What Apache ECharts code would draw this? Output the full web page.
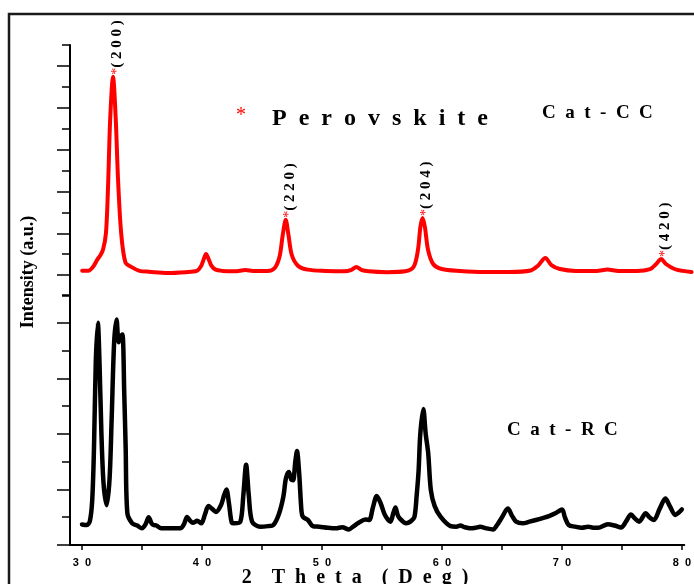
<!DOCTYPE html>
<html>
<head>
<meta charset="utf-8">
<script src="https://cdn.jsdelivr.net/npm/echarts@6/dist/echarts.min.js"></script>
<style>
  html, body { margin: 0; padding: 0; background: #fff; }
  #chart { width: 694px; height: 584px; }
</style>
</head>
<body>
<div id="chart"></div>
<script>
// Cat-CC diffraction pattern (upper panel, red)
const ccTheta = [
  30.0, 30.5, 30.9, 31.25, 31.46, 31.7, 31.95, 32.12, 32.3, 32.53, 32.75, 32.94, 33.2, 33.55, 34.06, 34.7,
  35.5, 37.0, 38.5, 39.4, 39.75, 40.0, 40.16, 40.35, 40.6, 40.95, 41.5, 42.5, 43.4, 44.0, 45.2,
  45.8, 46.2, 46.45, 46.7, 46.93, 47.2, 47.7, 48.5, 50.0, 51.5, 52.1, 52.5, 52.9, 53.5, 55.0,
  56.5, 57.2, 57.55, 57.75, 57.93, 58.12, 58.38, 58.8, 59.5, 61.0, 63.0, 65.0, 66.8, 67.4, 68.0,
  68.5, 69.2, 70.5, 72.2, 73.1, 74.0, 75.5, 76.6, 77.1, 77.5, 77.9, 78.6, 79.3, 80.0
];
const ccIntensity = [
  1.21, 1.21, 1.40, 1.75, 1.92, 2.2, 3.0, 5.2, 8.5, 10.48, 8.5, 5.6, 3.0, 1.6, 1.38, 1.2,
  1.16, 1.10, 1.14, 1.20, 1.42, 1.8, 2.01, 1.8, 1.45, 1.26, 1.20, 1.18, 1.24, 1.20, 1.20,
  1.34, 1.9, 2.9, 3.64, 2.9, 1.96, 1.45, 1.26, 1.20, 1.18, 1.25, 1.39, 1.25, 1.18, 1.14,
  1.18, 1.40, 2.2, 3.3, 3.73, 3.3, 2.2, 1.53, 1.29, 1.20, 1.15, 1.15, 1.22, 1.45, 1.82,
  1.48, 1.29, 1.20, 1.20, 1.27, 1.20, 1.20, 1.29, 1.53, 1.77, 1.53, 1.29, 1.20, 1.15
];

// Cat-RC diffraction pattern (lower panel, black)
const rcTheta = [
  30.0, 30.4, 30.65, 30.85, 31.0, 31.15, 31.32, 31.47, 31.62, 31.8, 32.06, 32.3, 32.47, 32.68, 32.88,
  33.05, 33.2, 33.37, 33.52, 33.64, 33.78, 34.17, 34.6, 35.0, 35.3, 35.56, 35.8, 35.97, 36.2, 36.6,
  37.4, 38.2, 38.5, 38.76, 39.0, 39.25, 39.6, 39.94, 40.25, 40.54, 40.85, 41.17, 41.6, 41.85, 42.04,
  42.25, 42.5, 42.67, 43.2, 43.45, 43.68, 43.9, 44.18, 44.86, 45.5, 45.95, 46.4, 46.78, 47.0, 47.24,
  47.45, 47.6, 47.78, 47.92, 48.1, 48.3, 48.42, 48.83, 49.24, 49.78, 50.5, 51.15, 51.7, 52.24, 52.6, 53.06,
  53.61, 53.94, 54.25, 54.57, 54.9, 55.25, 55.71, 55.95, 56.13, 56.3, 56.48, 57.03, 57.4, 57.71, 57.9,
  58.06, 58.2, 58.45, 58.65, 58.86, 59.08, 59.4, 59.9, 60.72, 61.2, 61.54, 61.9, 62.36, 62.8, 63.18,
  63.7, 64.27, 64.6, 64.96, 65.5, 65.85, 66.19, 66.74, 67.3, 67.83, 68.4, 68.93, 69.5, 70.02, 70.25,
  70.57, 71.1, 71.66, 72.2, 72.6, 73.02, 73.84, 74.4, 74.94, 75.35, 75.76, 76.1, 76.44, 76.99, 77.3,
  77.67, 78.15, 78.63, 79.0, 79.45, 79.7, 80.0
];
const rcIntensity = [
  0.74, 0.72, 0.85, 1.6, 3.5, 6.6, 8.0, 6.4, 4.0, 2.2, 1.43, 2.4, 4.5, 7.3, 8.12,
  7.3, 7.5, 7.58, 5.5, 3.5, 1.15, 0.79, 0.7, 0.6, 0.75, 1.0, 0.78, 0.72, 0.7, 0.6,
  0.6, 0.6, 0.75, 1.01, 0.88, 0.8, 0.87, 0.78, 1.1, 1.4, 1.3, 1.19, 1.45, 1.8, 2.0,
  1.5, 0.79, 0.78, 0.84, 1.8, 2.89, 1.8, 0.84, 0.66, 0.68, 0.72, 1.1, 1.73, 2.4, 2.63,
  2.35, 2.33, 3.0, 3.38, 2.6, 1.2, 1.01, 0.9, 0.68, 0.66, 0.62, 0.6, 0.64, 0.56, 0.66, 0.8,
  0.92, 0.9, 1.35, 1.76, 1.5, 1.08, 0.84, 1.15, 1.35, 1.1, 0.96, 0.78, 0.85, 1.01, 1.8,
  2.69, 4.0, 4.9, 4.0, 3.3, 1.97, 1.4, 1.01, 0.68, 0.66, 0.7, 0.64, 0.6, 0.62, 0.66,
  0.6, 0.56, 0.72, 0.96, 1.31, 1.05, 0.84, 0.78, 0.84, 0.9, 0.97, 1.04, 1.15, 1.28, 1.0,
  0.72, 0.66, 0.62, 0.66, 0.62, 0.62, 0.75, 0.7, 0.63, 0.85, 1.1, 0.95, 0.84, 1.14, 1.0,
  0.9, 1.3, 1.67, 1.4, 1.08, 1.15, 1.28
];

// Indexed perovskite reflections marked on the Cat-CC pattern
const hklTheta = [32.53, 46.7, 57.93, 77.5];
const hklLabels = ['200', '220', '204', '420'];

// Axis ticks
const xTickValues = [30, 35, 40, 45, 50, 55, 60, 65, 70, 75, 80];
const xLabelValues = [30, 40, 50, 60, 70, 80];
const ccMajorTicks = [1, 3, 5, 7, 9, 11];
const ccMinorTicks = [0, 2, 4, 6, 8, 10, 12];
const rcMajorTicks = [0, 2, 4, 6, 8];
const rcMinorTicks = [1, 3, 5, 7, 9];

const SERIF = '"Liberation Serif", "Times New Roman", serif';
const SANS = '"Liberation Sans", Arial, sans-serif';

// spread the letters of a word apart
function spaced(text, gap, wordGap) {
  return text.split(' ').map(w => w.split('').join(gap)).join(wordGap || gap);
}

const ccPoints = ccTheta.map((t, i) => [t, ccIntensity[i]]);
const rcPoints = rcTheta.map((t, i) => [t, rcIntensity[i]]);
const hklPoints = hklTheta.map((t, i) => [t, ccIntensity[ccTheta.indexOf(t)], hklLabels[i]]);

const X_MIN = 29, X_MAX = 80.2;

function tickOnlyAxis(grid, max, values, length, withLine) {
  return {
    type: 'value', gridIndex: grid, min: 0, max: max, position: 'left',
    axisLine: { show: withLine, onZero: false, lineStyle: { color: '#000', width: 2 } },
    axisTick: { show: true, inside: false, length: length, customValues: values,
                lineStyle: { color: '#000', width: 1.5 } },
    axisLabel: { show: false },
    splitLine: { show: false }
  };
}

const chart = echarts.init(document.getElementById('chart'), null, { renderer: 'canvas' });

chart.setOption({
  animation: false,
  backgroundColor: '#fff',
  grid: [
    { left: 70, right: 0, top: 45, height: 251 },
    { left: 70, right: 0, top: 295, height: 250 }
  ],
  xAxis: [
    { type: 'value', gridIndex: 0, min: X_MIN, max: X_MAX, show: false },
    {
      type: 'value', gridIndex: 1, min: X_MIN, max: X_MAX,
      axisLine: { show: true, onZero: false, lineStyle: { color: '#000', width: 2 } },
      axisTick: { show: true, inside: false, length: 5, customValues: xTickValues,
                  lineStyle: { color: '#000', width: 1.5 } },
      axisLabel: {
        show: true, customValues: xLabelValues, margin: 12,
        color: '#000', fontFamily: SANS, fontWeight: 'bold', fontSize: 11,
        formatter: v => spaced(String(v), '  ')
      },
      splitLine: { show: false }
    }
  ],
  yAxis: [
    tickOnlyAxis(0, 12, ccMajorTicks, 13, true),
    tickOnlyAxis(0, 12, ccMinorTicks, 8, false),
    tickOnlyAxis(1, 9, rcMajorTicks, 13, true),
    tickOnlyAxis(1, 9, rcMinorTicks, 8, false)
  ],
  series: [
    {
      name: 'Cat-CC', type: 'line', xAxisIndex: 0, yAxisIndex: 0,
      data: ccPoints, showSymbol: false, smooth: 0.3,
      lineStyle: { color: '#ff0000', width: 4, join: 'round', cap: 'round' }
    },
    {
      name: 'hkl', type: 'scatter', xAxisIndex: 0, yAxisIndex: 0,
      data: hklPoints, symbolSize: 0, itemStyle: { color: '#000' },
      silent: true,
      label: {
        show: true, position: 'top', distance: 2, rotate: 90,
        align: 'left', verticalAlign: 'middle', offset: [0, 4],
        color: '#000', opacity: 1,
        formatter: p => '{s|*}{h|' + spaced('(' + p.data[2] + ')', ' ') + '}',
        rich: {
          s: { color: '#ff0000', fontFamily: SERIF, fontSize: 14 },
          h: { color: '#000', fontFamily: SERIF, fontWeight: 'bold', fontSize: 15 }
        }
      }
    },
    {
      name: 'Cat-RC', type: 'line', xAxisIndex: 1, yAxisIndex: 2,
      data: rcPoints, showSymbol: false, smooth: 0.3,
      lineStyle: { color: '#000', width: 4.5, join: 'round', cap: 'round' }
    }
  ],
  graphic: [
    {
      type: 'rect', silent: true, z: 0,
      shape: { x: 9, y: 14, width: 720, height: 620 },
      style: { fill: 'none', stroke: '#1a1a1a', lineWidth: 2.5 }
    },
    {
      type: 'text', x: 241, y: 116,
      style: { text: '*', fill: '#ff0000', font: '20px ' + SERIF, textAlign: 'center', textVerticalAlign: 'middle' }
    },
    {
      type: 'text', x: 272, y: 119,
      style: { text: spaced('Perovskite', '\u2002'), fill: '#000', font: 'bold 24px ' + SERIF,
               textAlign: 'left', textVerticalAlign: 'middle' }
    },
    {
      type: 'text', x: 542, y: 113,
      style: { text: spaced('Cat-CC', '\u2002'), fill: '#000', font: 'bold 19px ' + SERIF,
               textAlign: 'left', textVerticalAlign: 'middle' }
    },
    {
      type: 'text', x: 507, y: 430,
      style: { text: spaced('Cat-RC', '\u2002'), fill: '#000', font: 'bold 19px ' + SERIF,
               textAlign: 'left', textVerticalAlign: 'middle' }
    },
    {
      type: 'text', x: 355, y: 578,
      style: { text: spaced('2 Theta (Deg)', '\u2002', '\u2003'), fill: '#000', font: 'bold 20px ' + SERIF,
               textAlign: 'center', textVerticalAlign: 'middle' }
    },
    {
      type: 'text', x: 28, y: 272, rotation: Math.PI / 2,
      style: { text: 'Intensity (a.u.)', fill: '#000', font: 'bold 18px ' + SERIF,
               textAlign: 'center', textVerticalAlign: 'middle' }
    }
  ]
});
</script>
</body>
</html>
